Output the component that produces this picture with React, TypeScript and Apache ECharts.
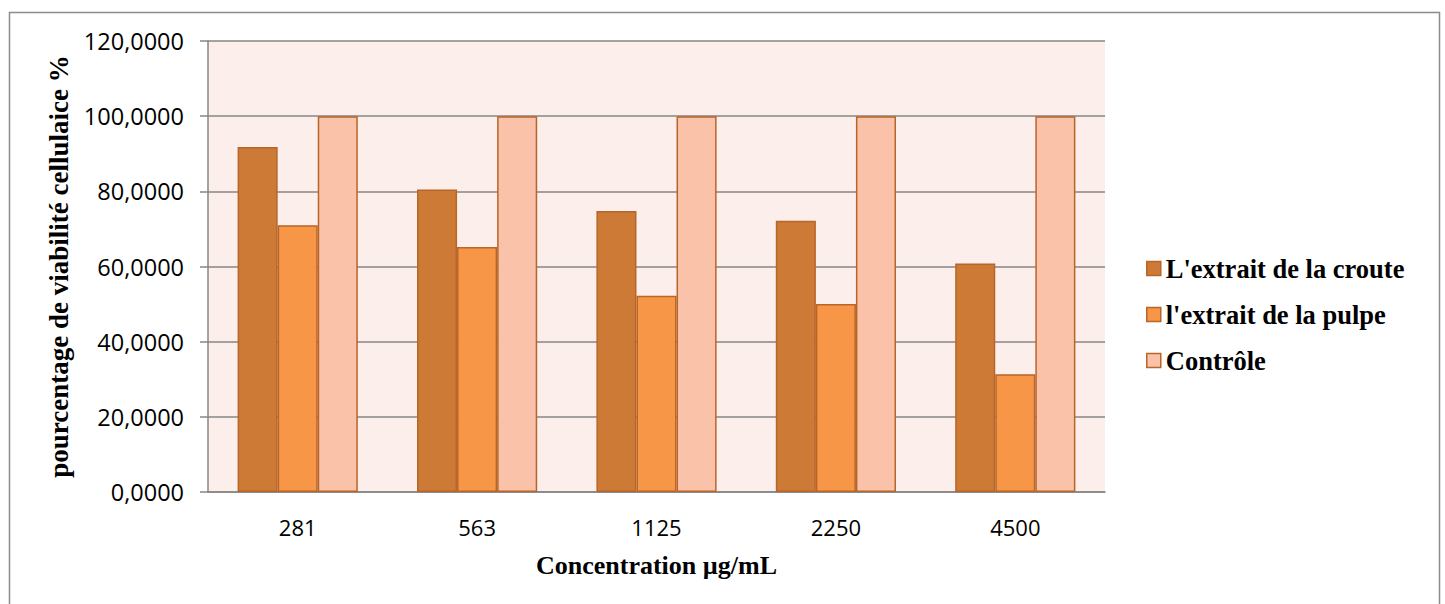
import React, { useEffect, useRef } from "react";
import * as echarts from "echarts";

const categories = ["281", "563", "1125", "2250", "4500"];
const seriesNames = ["L'extrait de la croute", "l'extrait de la pulpe", "Contrôle"];
const crouteValues = [91.8, 80.5, 74.8, 72.2, 60.8];
const pulpeValues = [71.0, 65.2, 52.2, 50.0, 31.3];
const controleValues = [100, 100, 100, 100, 100];
const colors = ["#CD7A36", "#F79646", "#FAC2A8"];

export default function App() {
  const ref = useRef<HTMLDivElement>(null);
  useEffect(() => {
    document.body.style.margin = "0";
    const chart = echarts.init(ref.current!, null, { renderer: "svg" });
    const values = [crouteValues, pulpeValues, controleValues];
    chart.setOption({
      animation: false,
      backgroundColor: "#ffffff",
      graphic: [
        {
          type: "rect",
          shape: { x: 9.5, y: 12.5, width: 1430, height: 620 },
          style: { fill: "none", stroke: "#8c8c8c", lineWidth: 1.5 },
          silent: true,
          z: -1,
        },
      ],
      grid: {
        left: 208,
        right: 340,
        top: 41,
        bottom: 112,
        show: true,
        backgroundColor: "#FCEEEA",
        borderWidth: 0,
      },
      legend: {
        orient: "vertical",
        left: 1146,
        top: 255,
        padding: 0,
        itemWidth: 14,
        itemHeight: 14,
        itemGap: 19,
        icon: "rect",
        data: seriesNames,
        textStyle: {
          fontFamily: "Liberation Serif",
          fontWeight: "bold",
          fontSize: 26.5,
          lineHeight: 26,
          color: "#000",
        },
        itemStyle: { borderColor: "#B8652A", borderWidth: 1.5 },
      },
      xAxis: {
        type: "category",
        data: categories,
        name: "Concentration µg/mL",
        nameLocation: "middle",
        nameGap: 60,
        nameTextStyle: {
          fontFamily: "Liberation Serif",
          fontWeight: "bold",
          fontSize: 26,
          color: "#000",
        },
        axisLine: { lineStyle: { color: "#868686", width: 1.5 } },
        axisTick: { show: false },
        axisLabel: {
          fontFamily: "Open Sans",
          fontSize: 22,
          color: "#000",
          margin: 24,
        },
      },
      yAxis: {
        type: "value",
        min: 0,
        max: 120,
        interval: 20,
        name: "pourcentage de viabilité cellulaice %",
        nameLocation: "middle",
        nameGap: 133,
        nameRotate: 90,
        nameTextStyle: {
          fontFamily: "Liberation Serif",
          fontWeight: "bold",
          fontSize: 27,
          color: "#000",
        },
        axisLine: { show: true, lineStyle: { color: "#868686", width: 1.5 } },
        axisTick: { show: true, length: 8, lineStyle: { color: "#868686", width: 1.5 } },
        splitLine: { lineStyle: { color: "#868686", width: 1.5 } },
        axisLabel: {
          fontFamily: "Open Sans",
          fontSize: 23.5,
          color: "#000",
          margin: 24,
          formatter: (v: number) => v.toFixed(4).replace(".", ","),
        },
      },
      series: seriesNames.map((name, i) => ({
        name,
        type: "bar",
        data: values[i],
        barGap: "0%",
        barCategoryGap: "33%",
        itemStyle: { color: colors[i], borderColor: "#B8652A", borderWidth: 1.5 },
      })),
    });
    return () => chart.dispose();
  }, []);
  return <div ref={ref} style={{ width: 1445, height: 604 }} />;
}
